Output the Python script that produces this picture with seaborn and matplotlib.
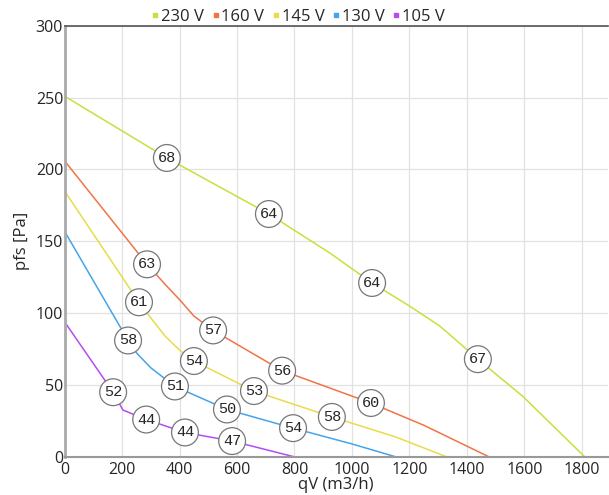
import matplotlib.pyplot as plt
import pandas
import seaborn

# fan curves: qV (m3/h) and pfs (Pa)
qv_230 = [0, 356, 711, 922, 1070, 1200, 1306, 1438, 1595, 1810]
pfs_230 = [251, 208, 169, 142, 121, 105, 91, 68, 42, 0]
qv_160 = [0, 287, 350, 402, 450, 517, 757, 1066, 1250, 1477]
pfs_160 = [206, 134, 120, 109, 98, 88, 60, 37.5, 22, 0]
qv_145 = [0, 259, 287, 350, 402, 450, 659, 930, 1150, 1330]
pfs_145 = [185, 107.6, 100, 84, 74, 66.7, 45.8, 27.8, 14, 0]
qv_130 = [0, 221, 252, 300, 384, 565, 795, 1000, 1153]
pfs_130 = [157, 81, 72, 62, 49, 33, 20, 9, 0]
qv_105 = [0, 169, 203, 284, 419, 583, 800]
pfs_105 = [94, 45, 32.6, 26, 17, 11, 0]

# sound level labels sitting on the curves
label_qv = [356, 711, 1070, 1438, 287, 517, 757, 1066, 259, 450, 659, 930, 221, 384, 565, 795, 169, 284, 419, 583]
label_pfs = [208, 169, 121, 68, 134, 88, 60, 37.5, 107.6, 66.7, 45.8, 27.8, 81, 49, 33, 20, 45, 26, 17, 11]
label_text = ['68', '64', '64', '67', '63', '57', '56', '60', '61', '54', '53', '58', '58', '51', '50', '54', '52', '44', '44', '47']

series = ['230 V', '160 V', '145 V', '130 V', '105 V']
colors = ['#c8e03c', '#f07448', '#e8dc48', '#44a4ec', '#b44cf0']

frames = []
for name, q, p in zip(series, [qv_230, qv_160, qv_145, qv_130, qv_105],
                      [pfs_230, pfs_160, pfs_145, pfs_130, pfs_105]):
    frames.append(pandas.DataFrame({'qV': q, 'pfs': p, 'Voltage': name}))
data = pandas.concat(frames, ignore_index = True)

seaborn.set_style('white')
plt.rcParams['font.family'] = ['Open Sans', 'DejaVu Sans']

fig = plt.figure(figsize = (6.09, 4.95), dpi = 100)
ax = fig.add_axes([0.106, 0.077, 0.892, 0.871])

seaborn.lineplot(data = data, x = 'qV', y = 'pfs', hue = 'Voltage', palette = colors,
                 sort = False, estimator = None, linewidth = 1.1, ax = ax, legend = False)

for q, p, t in zip(label_qv, label_pfs, label_text):
    ax.text(q, p, t, ha = 'center', va = 'center', fontsize = 11, family = 'Liberation Mono',
            bbox = dict(boxstyle = 'circle,pad=0.28', facecolor = 'white', edgecolor = '#777777', linewidth = 0.9),
            zorder = 5)

ax.set_xlim(0, 1890)
ax.set_ylim(0, 300)
ax.set_xticks(range(0, 1801, 200))
ax.set_yticks(range(0, 301, 50))
ax.grid(True, color = '#e2e2e2', linewidth = 0.9)
ax.tick_params(axis = 'both', labelsize = 11.5, length = 4, color = '#888888', pad = 0)
ax.tick_params(axis = 'y', length = 0, pad = 1)
ax.set_xlabel('qV (m3/h)', fontsize = 12, labelpad = -1)
ax.set_ylabel('pfs [Pa]', fontsize = 12, labelpad = 4)

ax.spines['left'].set_color('#aaaaaa')
ax.spines['left'].set_linewidth(2)
ax.spines['bottom'].set_color('#999999')
ax.spines['bottom'].set_linewidth(1.5)
ax.spines['top'].set_color('#555555')
ax.spines['top'].set_linewidth(1.2)
ax.spines['right'].set_visible(False)

handles = [plt.Line2D([], [], marker = 's', linestyle = '', color = c, markersize = 3.5) for c in colors]
fig.legend(handles, series, loc = 'center', bbox_to_anchor = (0.49, 0.966), ncol = 5, frameon = False,
           fontsize = 12, handlelength = 0.4, handletextpad = 0.15, columnspacing = 0.5, borderpad = 0)

plt.savefig('out.png', dpi = 100)
